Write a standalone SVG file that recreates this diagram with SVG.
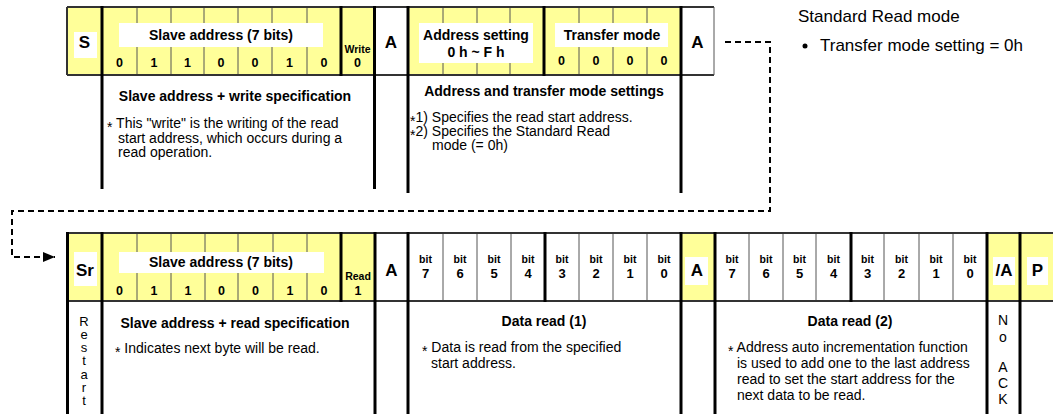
<svg xmlns="http://www.w3.org/2000/svg" width="1053" height="414" viewBox="0 0 1053 414">
<defs>
<style>
text{font-family:"Liberation Sans",Arial,"DejaVu Sans",sans-serif;fill:#000}
.big{font-size:17px;font-weight:bold;text-anchor:middle}
.lbl{font-size:14px;font-weight:bold;text-anchor:middle}
.dig{font-size:12.5px;font-weight:bold;text-anchor:middle}
.bd{font-size:13px;font-weight:bold;text-anchor:middle}
.sm{font-size:10.5px;font-weight:bold;text-anchor:middle}
.note{font-size:14px}
.vt{font-size:13px;text-anchor:middle}
.y{fill:#FFFF99}
.w{fill:#fff}
.thin{stroke:#555;stroke-width:1}
.thick{stroke:#000;stroke-width:3}
.edge{stroke:#333;stroke-width:2}
.dash{fill:none;stroke:#000;stroke-width:2;stroke-dasharray:6 4}
</style>
<marker id="arr" markerWidth="12" markerHeight="10" refX="12" refY="5" orient="auto" markerUnits="userSpaceOnUse"><path d="M0,0 L12,5 L0,10 z" fill="#000"/></marker>
</defs>

<!-- legend -->
<g id="legend">
<text x="798" y="22" style="font-size:17px">Standard Read mode</text>
<circle cx="805" cy="46" r="2.5" fill="#000"/>
<text x="820" y="51" style="font-size:17px">Transfer mode setting = 0h</text>
</g>

<!-- ===== Top row ===== -->
<g id="top-start">
<rect class="y" x="67" y="7" width="35" height="68"/>
<rect class="w" x="74" y="32" width="23" height="26"/>
<text class="big" x="84.5" y="48">S</text>
</g>

<g id="top-slave">
<rect class="y" x="102" y="7" width="272" height="68"/>
<g class="thin">
<line x1="137" y1="7" x2="137" y2="75"/><line x1="171" y1="7" x2="171" y2="75"/><line x1="204" y1="7" x2="204" y2="75"/>
<line x1="238" y1="7" x2="238" y2="75"/><line x1="272" y1="7" x2="272" y2="75"/><line x1="307" y1="7" x2="307" y2="75"/>
</g>
<rect class="w" x="119" y="23" width="204" height="24"/>
<text class="lbl" x="221" y="40">Slave address (7 bits)</text>
<text class="dig" x="119.5" y="67">0</text><text class="dig" x="154" y="67">1</text><text class="dig" x="187.5" y="67">1</text>
<text class="dig" x="221" y="67">0</text><text class="dig" x="255" y="67">0</text><text class="dig" x="289.5" y="67">1</text>
<text class="dig" x="324" y="67">0</text>
<text class="sm" x="357.5" y="53">Write</text>
<text class="dig" x="357.5" y="67">0</text>
<text class="lbl" x="235" y="101">Slave address + write specification</text>
<text class="note" x="107" y="128"><tspan dy="3.5">*</tspan><tspan dy="-3.5"> This "write" is the writing of the read</tspan></text>
<text class="note" x="118" y="143">start address, which occurs during a</text>
<text class="note" x="118" y="157">read operation.</text>
</g>

<g id="top-ack1">
<rect class="w" x="374" y="7" width="34" height="68"/>
<text class="big" x="391" y="48">A</text>
</g>

<g id="top-addr">
<rect class="y" x="408" y="7" width="273" height="68"/>
<g class="thin">
<line x1="443" y1="7" x2="443" y2="75"/><line x1="477" y1="7" x2="477" y2="75"/><line x1="510" y1="7" x2="510" y2="75"/>
<line x1="579" y1="7" x2="579" y2="75"/><line x1="613" y1="7" x2="613" y2="75"/><line x1="647" y1="7" x2="647" y2="75"/>
</g>
<rect class="w" x="419" y="23" width="114" height="40"/>
<text class="lbl" x="476" y="40">Address setting</text>
<text class="lbl" x="476" y="57">0 h ~ F h</text>
<rect class="w" x="555" y="23" width="113" height="24"/>
<text class="lbl" x="612" y="40">Transfer mode</text>
<text class="dig" x="561.5" y="65">0</text><text class="dig" x="596" y="65">0</text>
<text class="dig" x="630" y="65">0</text><text class="dig" x="664" y="65">0</text>
<text class="lbl" x="544" y="96">Address and transfer mode settings</text>
<text class="note" x="410" y="122"><tspan dy="3.5">*</tspan><tspan dy="-3.5">1) Specifies the read start address.</tspan></text>
<text class="note" x="410" y="136"><tspan dy="3.5">*</tspan><tspan dy="-3.5">2) Specifies the Standard Read</tspan></text>
<text class="note" x="432" y="150">mode (= 0h)</text>
</g>

<g id="top-ack2">
<rect class="w" x="681" y="7" width="33" height="68"/>
<text class="big" x="697.5" y="48">A</text>
</g>

<g id="top-frame">
<line class="edge" x1="67" y1="7" x2="714" y2="7"/>
<line class="edge" x1="67" y1="75" x2="714" y2="75"/>
<line class="edge" x1="67" y1="7" x2="67" y2="75"/>
<line class="thin" x1="714" y1="7" x2="714" y2="75"/>
<g class="thick">
<line x1="102" y1="6" x2="102" y2="189"/>
<line x1="341" y1="6" x2="341" y2="76"/>
<line x1="374.5" y1="6" x2="374.5" y2="189"/>
<line x1="408" y1="6" x2="408" y2="193"/>
<line x1="544" y1="6" x2="544" y2="76"/>
<line x1="681" y1="6" x2="681" y2="193"/>
</g>
</g>

<!-- ===== Bottom row ===== -->
<g id="bot-restart">
<rect class="y" x="67" y="233" width="35" height="68"/>
<rect class="w" x="74" y="252" width="23" height="34"/>
<text class="big" x="85" y="276">Sr</text>
<text class="vt" x="84" y="326">R</text><text class="vt" x="84" y="339">e</text><text class="vt" x="84" y="352">s</text>
<text class="vt" x="84" y="365">t</text><text class="vt" x="84" y="379">a</text><text class="vt" x="84" y="392">r</text>
<text class="vt" x="84" y="405">t</text>
</g>

<g id="bot-slave">
<rect class="y" x="102" y="233" width="273" height="68"/>
<g class="thin">
<line x1="137" y1="233" x2="137" y2="301"/><line x1="171" y1="233" x2="171" y2="301"/><line x1="205" y1="233" x2="205" y2="301"/>
<line x1="238" y1="233" x2="238" y2="301"/><line x1="273" y1="233" x2="273" y2="301"/><line x1="307" y1="233" x2="307" y2="301"/>
</g>
<rect class="w" x="119" y="252" width="205" height="21"/>
<text class="lbl" x="221" y="267">Slave address (7 bits)</text>
<text class="dig" x="119.5" y="295">0</text><text class="dig" x="154" y="295">1</text><text class="dig" x="188" y="295">1</text>
<text class="dig" x="221.5" y="295">0</text><text class="dig" x="255.5" y="295">0</text><text class="dig" x="290" y="295">1</text>
<text class="dig" x="324" y="295">0</text>
<text class="sm" x="358" y="280">Read</text>
<text class="dig" x="358" y="295">1</text>
<text class="lbl" x="235" y="328">Slave address + read specification</text>
<text class="note" x="115" y="353"><tspan dy="3.5">*</tspan><tspan dy="-3.5"> Indicates next byte will be read.</tspan></text>
</g>

<g id="bot-ack1">
<rect class="w" x="375" y="233" width="33" height="68"/>
<text class="big" x="391.5" y="276">A</text>
</g>

<g id="bot-data1">
<rect class="w" x="408" y="233" width="273" height="68"/>
<g class="thin">
<line x1="443" y1="233" x2="443" y2="301"/><line x1="477" y1="233" x2="477" y2="301"/><line x1="511" y1="233" x2="511" y2="301"/>
<line x1="579" y1="233" x2="579" y2="301"/><line x1="613" y1="233" x2="613" y2="301"/><line x1="647" y1="233" x2="647" y2="301"/>
</g>
<text class="sm" x="425.5" y="263">bit</text><text class="sm" x="460" y="263">bit</text><text class="sm" x="494" y="263">bit</text><text class="sm" x="528" y="263">bit</text>
<text class="sm" x="562" y="263">bit</text><text class="sm" x="596" y="263">bit</text><text class="sm" x="630" y="263">bit</text><text class="sm" x="664" y="263">bit</text>
<text class="bd" x="425.5" y="278">7</text><text class="bd" x="460" y="278">6</text><text class="bd" x="494" y="278">5</text><text class="bd" x="528" y="278">4</text>
<text class="bd" x="562" y="278">3</text><text class="bd" x="596" y="278">2</text><text class="bd" x="630" y="278">1</text><text class="bd" x="664" y="278">0</text>
<text class="lbl" x="544" y="326">Data read (1)</text>
<text class="note" x="422" y="352"><tspan dy="3.5">*</tspan><tspan dy="-3.5"> Data is read from the specified</tspan></text>
<text class="note" x="431" y="368">start address.</text>
</g>

<g id="bot-ack2">
<rect class="y" x="681" y="233" width="34" height="68"/>
<rect class="w" x="685" y="257" width="23" height="28"/>
<text class="big" x="697" y="276">A</text>
</g>

<g id="bot-data2">
<rect class="w" x="715" y="233" width="272" height="68"/>
<g class="thin">
<line x1="749" y1="233" x2="749" y2="301"/><line x1="783" y1="233" x2="783" y2="301"/><line x1="816" y1="233" x2="816" y2="301"/>
<line x1="884" y1="233" x2="884" y2="301"/><line x1="919" y1="233" x2="919" y2="301"/><line x1="953" y1="233" x2="953" y2="301"/>
</g>
<text class="sm" x="732" y="263">bit</text><text class="sm" x="766" y="263">bit</text><text class="sm" x="799.5" y="263">bit</text><text class="sm" x="833.5" y="263">bit</text>
<text class="sm" x="867.5" y="263">bit</text><text class="sm" x="901.5" y="263">bit</text><text class="sm" x="936" y="263">bit</text><text class="sm" x="970" y="263">bit</text>
<text class="bd" x="732" y="278">7</text><text class="bd" x="766" y="278">6</text><text class="bd" x="799.5" y="278">5</text><text class="bd" x="833.5" y="278">4</text>
<text class="bd" x="867.5" y="278">3</text><text class="bd" x="901.5" y="278">2</text><text class="bd" x="936" y="278">1</text><text class="bd" x="970" y="278">0</text>
<text class="lbl" x="850" y="326">Data read (2)</text>
<text class="note" x="728" y="352"><tspan dy="3.5">*</tspan><tspan dy="-3.5"> Address auto incrementation function</tspan></text>
<text class="note" x="737" y="368">is used to add one to the last address</text>
<text class="note" x="737" y="384">read to set the start address for the</text>
<text class="note" x="737" y="400">next data to be read.</text>
</g>

<g id="bot-nack">
<rect class="y" x="987" y="233" width="33" height="68"/>
<rect class="w" x="993" y="257" width="22" height="28"/>
<text class="big" x="1004" y="276">/A</text>
<text class="note" x="1003" y="325" text-anchor="middle">N</text>
<text class="note" x="1003" y="342" text-anchor="middle">o</text>
<text class="note" x="1003" y="372" text-anchor="middle">A</text>
<text class="note" x="1003" y="388" text-anchor="middle">C</text>
<text class="note" x="1003" y="404" text-anchor="middle">K</text>
</g>

<g id="bot-stop">
<rect class="y" x="1020" y="233" width="34" height="68"/>
<rect class="w" x="1027" y="257" width="21" height="28"/>
<text class="big" x="1037.5" y="276">P</text>
</g>

<g id="bot-frame">
<line class="edge" x1="67" y1="233" x2="1053" y2="233"/>
<line class="edge" x1="67" y1="301" x2="1053" y2="301"/>
<g class="thick">
<line x1="67.5" y1="232" x2="67.5" y2="414"/>
<line x1="102" y1="232" x2="102" y2="414"/>
<line x1="341" y1="232" x2="341" y2="302"/>
<line x1="375" y1="232" x2="375" y2="414"/>
<line x1="408" y1="232" x2="408" y2="414"/>
<line x1="545" y1="232" x2="545" y2="302"/>
<line x1="681" y1="232" x2="681" y2="414"/>
<line x1="715" y1="232" x2="715" y2="414"/>
<line x1="851" y1="232" x2="851" y2="302"/>
<line x1="987" y1="232" x2="987" y2="414"/>
<line x1="1020" y1="232" x2="1020" y2="414"/>
</g>
</g>

<!-- connector -->
<g id="connectors">
<path class="dash" d="M725,42 H770 V211 H12 V257 H55" marker-end="url(#arr)"/>
</g>
</svg>
